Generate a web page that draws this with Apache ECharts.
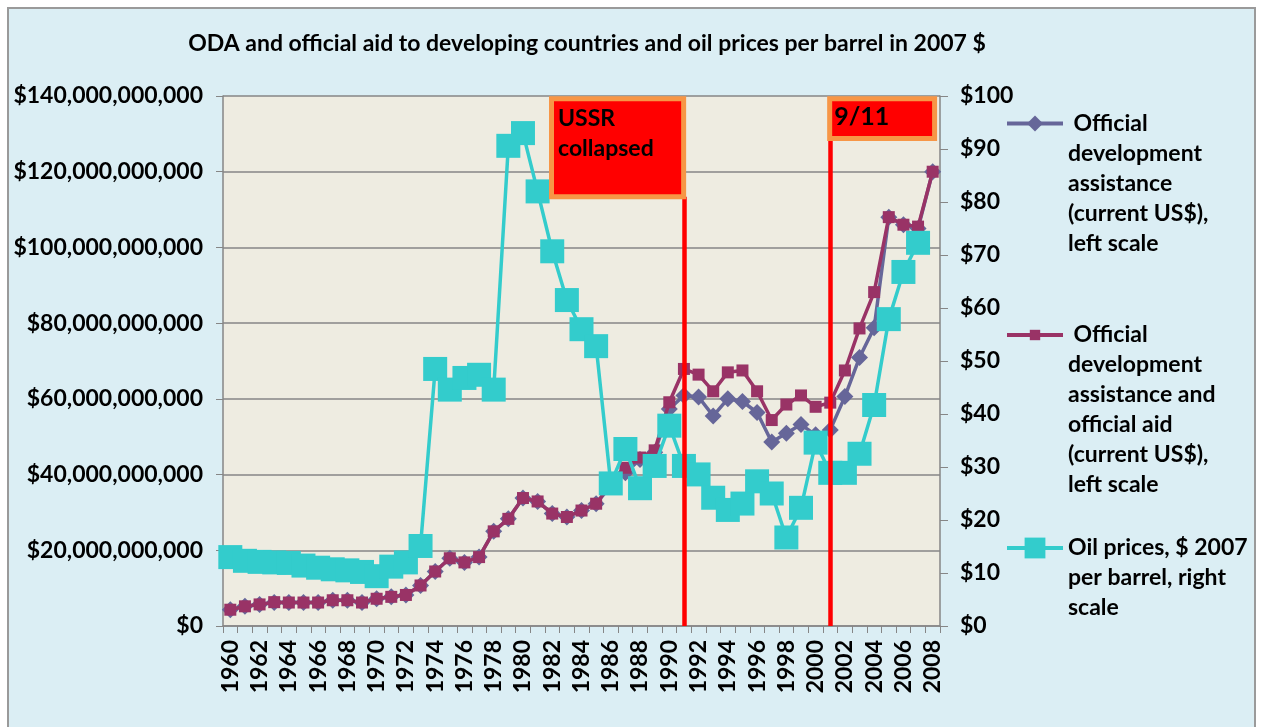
<!DOCTYPE html>
<html>
<head>
<meta charset="utf-8">
<script src="https://cdn.jsdelivr.net/npm/echarts@6/dist/echarts.min.js"></script>
<style>
html,body{margin:0;padding:0;background:#ffffff;}
#frame{position:absolute;left:7px;top:7px;width:1249px;height:740px;background:#DBEEF4;border:2px solid #9A9A9A;box-sizing:border-box;}
#c{position:absolute;left:0;top:0;width:1262px;height:727px;}
</style>
</head>
<body>
<div id="frame"></div>
<div id="c"></div>
<script>
// ---------- DATA ----------
const years = ['1960','1961','1962','1963','1964','1965','1966','1967','1968','1969',
  '1970','1971','1972','1973','1974','1975','1976','1977','1978','1979',
  '1980','1981','1982','1983','1984','1985','1986','1987','1988','1989',
  '1990','1991','1992','1993','1994','1995','1996','1997','1998','1999',
  '2000','2001','2002','2003','2004','2005','2006','2007','2008'];

// Official development assistance (current US$), billions
const odaBillions = [4.3,5.2,5.7,6.2,6.2,6.2,6.2,6.8,6.8,6.2,
  7.2,7.7,8.2,10.7,14.4,17.9,16.8,18.2,25.0,28.3,
  33.8,32.9,29.7,28.8,30.5,32.3,37.0,40.5,44.0,45.9,
  57.3,60.9,60.5,55.5,60.0,59.3,56.4,48.6,50.9,53.2,
  50.5,51.8,60.6,70.9,78.8,108.0,106.0,105.0,120.0];

// ODA and official aid (current US$), billions
const odaOaBillions = [4.3,5.2,5.7,6.3,6.2,6.2,6.2,6.8,6.8,6.2,
  7.2,7.7,8.2,10.7,14.4,17.9,16.8,18.2,25.0,28.3,
  33.8,32.9,29.7,28.8,30.5,32.3,37.5,41.8,44.5,46.4,
  59.1,67.9,66.4,62.0,67.0,67.5,62.0,54.4,58.5,60.9,
  57.9,59.0,67.5,78.6,88.2,108.0,106.0,105.5,120.0];

// Oil prices, $ 2007 per barrel
const oilPrices = [13.0,12.3,12.1,12.0,11.9,11.4,11.0,10.7,10.5,10.2,
  9.4,11.2,12.0,15.1,48.5,44.6,46.8,47.4,44.6,90.6,
  93.0,82.0,70.7,61.5,56.0,52.8,26.9,33.4,26.0,30.2,
  37.8,30.2,28.6,24.2,21.9,23.1,27.3,25.0,16.7,22.3,
  34.6,28.9,28.9,32.5,41.7,57.9,66.8,72.3,null];

const seriesNames = [
  'Official development assistance (current US$), left scale',
  'Official development assistance and official aid (current US$), left scale',
  'Oil prices, $ 2007 per barrel, right scale'
];
const legendLines = [
  [' Official','development','assistance','(current US$),','left scale'],
  [' Official','development','assistance and','official aid','(current US$),','left scale'],
  ['Oil prices, $ 2007','per barrel, right','scale']
];

const leftTicks = {min:0, max:140000000000, interval:20000000000};
const rightTicks = {min:0, max:100, interval:10};

const eventNames = ['USSR\ncollapsed', '9/11'];
const eventYears = [1991, 2001];
// annotation boxes [x0, y0(top, right scale), x1, y1(bottom, right scale)]
const eventBoxes = [[1981.95, 99.5, 1990.98, 81.0], [2000.96, 99.5, 2008.13, 92.0]];

const titleText = 'ODA and official aid to developing countries and oil prices per barrel in 2007 $';

// ---------- CHART ----------
const FONT = 'Lato, "Open Sans", "Noto Sans", sans-serif';
const AXIS_GRAY = '#868686';
const fmtBig = v => '$' + String(v).replace(/\B(?=(\d{3})+(?!\d))/g, ',');
const toDollars = arr => arr.map(v => v == null ? null : v * 1e9);

const colors = ['#666699', '#993366', '#33CCCC'];
const baseText = {fontFamily: FONT, fontWeight: 'bold', fontSize: 23, color: '#000'};

function mkLegend(i, top, itemHeight) {
  const lines = legendLines[i];
  const blanks = lines.length - 1;
  const txt = '\n'.repeat(blanks) + lines.join('\n');
  return {
    data: [seriesNames[i]],
    orient: 'vertical',
    left: 1005,
    top: top,
    padding: 0,
    itemWidth: 56,
    itemHeight: itemHeight,
    selectedMode: false,
    formatter: () => txt,
    lineStyle: {width: 4},
    textStyle: Object.assign({}, baseText, {lineHeight: 30})
  };
}

const chart = echarts.init(document.getElementById('c'), null, {renderer: 'canvas'});
const option = {
  backgroundColor: 'transparent',
  animation: false,
  title: {
    text: titleText,
    left: 582,
    top: 27,
    textAlign: 'center',
    textStyle: {fontFamily: FONT, fontWeight: 'bold', fontSize: 23, color: '#000'}
  },
  legend: [
    mkLegend(0, 123.5 - 15 * 9, 20),
    mkLegend(1, 335 - 15 * 11, 13),
    mkLegend(2, 548 - 15 * 5, 26)
  ],
  grid: {
    left: 223, right: 322, top: 96, bottom: 101,
    show: true, backgroundColor: '#EEECE1', borderWidth: 0,
    containLabel: false, outerBoundsMode: 'none'
  },
  xAxis: [{
    type: 'category',
    data: years,
    boundaryGap: true,
    axisLine: {lineStyle: {color: AXIS_GRAY, width: 1.5}},
    axisTick: {show: true, interval: 0, length: 7, lineStyle: {color: AXIS_GRAY}},
    axisLabel: Object.assign({}, baseText, {interval: 1, rotate: 90, margin: 14}),
    splitLine: {show: false}
  }, {
    type: 'value', min: 1959.5, max: 2008.5, show: false
  }],
  yAxis: [{
    type: 'value',
    position: 'left',
    min: leftTicks.min, max: leftTicks.max, interval: leftTicks.interval,
    axisLine: {show: true, lineStyle: {color: AXIS_GRAY, width: 1.5}},
    axisTick: {show: true, length: 7, lineStyle: {color: AXIS_GRAY}},
    axisLabel: Object.assign({}, baseText, {formatter: fmtBig, margin: 20}),
    splitLine: {show: true, lineStyle: {color: AXIS_GRAY, width: 1.5}}
  }, {
    type: 'value',
    position: 'right',
    min: rightTicks.min, max: rightTicks.max, interval: rightTicks.interval,
    axisLine: {show: true, lineStyle: {color: AXIS_GRAY, width: 1.5}},
    axisTick: {show: true, length: 8, lineStyle: {color: AXIS_GRAY}},
    axisLabel: Object.assign({}, baseText, {formatter: v => '$' + v, margin: 20}),
    splitLine: {show: false}
  }],
  series: [{
    name: seriesNames[0], type: 'line', xAxisIndex: 0, yAxisIndex: 0,
    data: toDollars(odaBillions),
    symbol: 'diamond', symbolSize: 17, showAllSymbol: true,
    lineStyle: {color: colors[0], width: 3.5},
    itemStyle: {color: colors[0]},
    z: 2
  }, {
    name: seriesNames[1], type: 'line', xAxisIndex: 0, yAxisIndex: 0,
    data: toDollars(odaOaBillions),
    symbol: 'rect', symbolSize: 12, showAllSymbol: true,
    lineStyle: {color: colors[1], width: 3.5},
    itemStyle: {color: colors[1]},
    z: 3
  }, {
    name: seriesNames[2], type: 'line', xAxisIndex: 0, yAxisIndex: 1,
    data: oilPrices, connectNulls: false,
    symbol: 'rect', symbolSize: 24, showAllSymbol: true,
    lineStyle: {color: colors[2], width: 3.5},
    itemStyle: {color: colors[2]},
    z: 4
  }, {
    name: 'events', type: 'line', xAxisIndex: 1, yAxisIndex: 1,
    data: [], silent: true, z: 6,
    markLine: {
      z: 8, silent: true, symbol: ['none', 'none'],
      lineStyle: {color: '#FF0000', width: 4.5, type: 'solid'},
      label: {show: false},
      data: eventYears.map((y, i) => [{coord: [y, 0]}, {coord: [y, eventBoxes[i][3]]}])
    },
    markArea: {
      z: 10, silent: true,
      itemStyle: {color: '#FF0000', borderColor: '#F79646', borderWidth: 5, opacity: 1},
      label: Object.assign({}, baseText, {show: true, position: 'insideTopLeft', distance: 0, lineHeight: 30}),
      data: eventBoxes.map((b, i) => [
        {name: eventNames[i], coord: [b[0], b[1]],
         label: i === 0 ? {padding: [7, 0, 0, 9]} : {fontSize: 25, padding: [6, 0, 0, 7]}},
        {coord: [b[2], b[3]]}
      ])
    }
  }]
};
chart.setOption(option);
</script>
</body>
</html>
